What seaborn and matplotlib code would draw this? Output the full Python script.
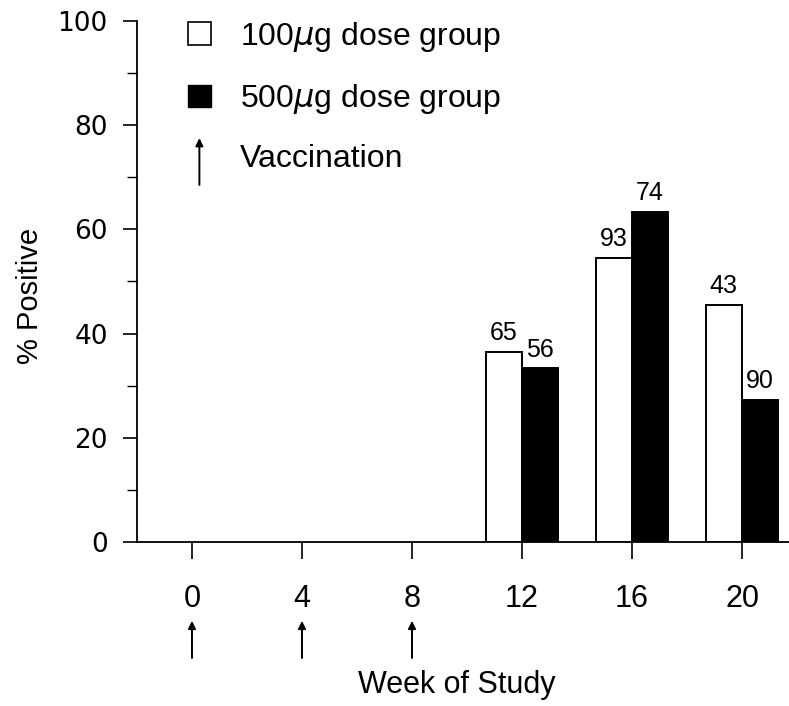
import numpy as np
import pandas as pd
import matplotlib
matplotlib.use("Agg")
import matplotlib.pyplot as plt
import seaborn as sns
from matplotlib.patches import Patch, FancyArrowPatch
from matplotlib.legend_handler import HandlerBase
from matplotlib.ticker import MultipleLocator

# data
weeks = [0, 4, 8, 12, 16, 20]
groups = ["100μg", "500μg"]
pct_100 = [np.nan, np.nan, np.nan, 36.4, 54.6, 45.5]
pct_500 = [np.nan, np.nan, np.nan, 33.3, 63.4, 27.3]
n_100 = [None, None, None, 65, 93, 43]
n_500 = [None, None, None, 56, 74, 90]
vacc_weeks = [0, 4, 8]

rows = []
for grp, vals, ns in [(groups[0], pct_100, n_100), (groups[1], pct_500, n_500)]:
    for w, v, n in zip(weeks, vals, ns):
        if not np.isnan(v):
            rows.append({"week": w, "group": grp, "pct": v, "n": n})
df = pd.DataFrame(rows)

sns.set_style("ticks")
# y tick numbers use DejaVu (round zeros), everything else Liberation Sans
plt.rcParams["font.family"] = ["DejaVu Sans"]
for key in ["text.color", "axes.labelcolor", "xtick.color", "ytick.color", "axes.edgecolor"]:
    plt.rcParams[key] = "black"
LIB = ["Liberation Sans", "DejaVu Sans"]


class ArrowHandler(HandlerBase):
    def create_artists(self, legend, orig_handle, xdescent, ydescent,
                       width, height, fontsize, trans):
        arr = FancyArrowPatch((width / 2, -0.9 * height), (width / 2, 1.4 * height),
                              arrowstyle="-|>", mutation_scale=11, lw=1.4,
                              color="black", transform=trans)
        return [arr]


fig = plt.figure(figsize=(7.89, 7.06), dpi=100)
ax = fig.add_axes([0.1736, 0.2323, 0.8264, 0.738])

sns.barplot(data=df, x="week", y="pct", hue="group", order=weeks, hue_order=groups,
            palette=["white", "black"], edgecolor="black", linewidth=1.4,
            width=0.66, legend=False, ax=ax)

for container, grp in zip(ax.containers, groups):
    labels = df.loc[df["group"] == grp, "n"].astype(int).astype(str).tolist()
    ax.bar_label(container, labels=labels, padding=5, fontsize=18, family=LIB)

ax.set_ylim(0, 100)
ax.set_xlim(-0.5, 5.427)
ax.yaxis.set_major_locator(MultipleLocator(20))
ax.yaxis.set_minor_locator(MultipleLocator(10))
sns.despine(ax=ax)
for s in ["left", "bottom"]:
    ax.spines[s].set_linewidth(1.3)

ax.tick_params(axis="y", which="major", length=10, width=1.2, pad=11, labelsize=19)
ax.tick_params(axis="y", which="minor", length=7, width=1.0)
ax.tick_params(axis="x", length=12, width=1.2, pad=18, labelsize=22)
ax.set_xticks(range(len(weeks)))
ax.set_xticklabels([str(w) for w in weeks], family=LIB)

ax.set_ylabel("% Positive", fontsize=21, family=LIB)
ax.yaxis.set_label_coords(-0.143, 0.472)
ax.set_xlabel("Week of Study", fontsize=22, family=LIB)
ax.xaxis.set_label_coords(0.49, -0.246)

# vaccination arrows below the week labels
for w in vacc_weeks:
    i = weeks.index(w)
    ax.annotate("", xy=(i, -0.146), xytext=(i, -0.228), xycoords=ax.get_xaxis_transform(),
                arrowprops=dict(arrowstyle="-|>", color="black", lw=1.4, mutation_scale=11),
                annotation_clip=False)

handles = [Patch(facecolor="white", edgecolor="black", linewidth=1.2),
           Patch(facecolor="black", edgecolor="black"),
           "arrow"]
labels = ["100$\\mu$g dose group", "500$\\mu$g dose group", "Vaccination"]
leg = ax.legend(handles, labels, loc="upper left", bbox_to_anchor=(0.034, 1.057),
                frameon=False, prop={"family": LIB, "size": 23},
                handlelength=0.72, handleheight=0.72,
                handletextpad=0.9, labelspacing=0.88,
                handler_map={str: ArrowHandler()})

fig.savefig("out.png", dpi=100)
